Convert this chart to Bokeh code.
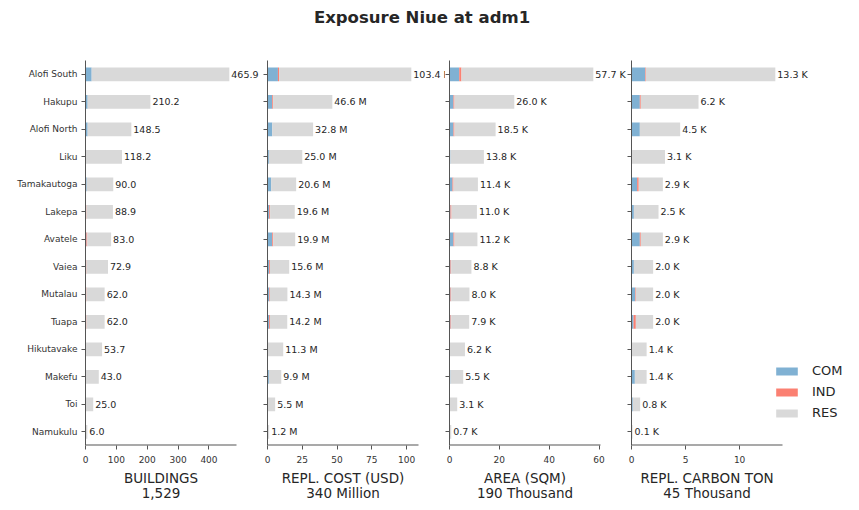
from bokeh.plotting import figure
from bokeh.models import (ColumnDataSource, Range1d, FixedTicker,
                          LabelSet, Legend, LegendItem)
from bokeh.core.properties import value
from bokeh.layouts import column, row
from bokeh.embed import file_html
from bokeh.resources import INLINE

# ---------------- data ----------------
regions = ["Alofi South", "Hakupu", "Alofi North", "Liku", "Tamakautoga", "Lakepa",
           "Avatele", "Vaiea", "Mutalau", "Tuapa", "Hikutavake", "Makefu", "Toi", "Namukulu"]

categories = ["COM", "IND", "RES"]

buildings_com = [20, 7, 7, 1, 4, 0, 3, 0, 0, 0, 0, 0, 0, 0]
buildings_ind = [0, 0, 0, 0, 0, 3, 3, 3, 3, 3, 0, 0, 0, 0]
buildings_res = [445.9, 203.2, 141.5, 117.2, 86.0, 85.9, 77.0, 69.9, 59.0, 59.0, 53.7, 43.0, 25.0, 6.0]

cost_com = [7.5, 3.4, 3.4, 1.0, 2.7, 1.2, 3.4, 1.2, 1.2, 1.2, 0.0, 1.0, 0.0, 0.0]
cost_ind = [0.8, 0.6, 0.0, 0.0, 0.0, 0.7, 0.7, 0.6, 0.5, 0.6, 0.0, 0.0, 0.0, 0.0]
cost_res = [95.1, 42.6, 29.4, 24.0, 17.9, 17.7, 15.8, 13.8, 12.6, 12.4, 11.3, 8.9, 5.5, 1.2]

area_com = [3.9, 1.6, 1.6, 0.4, 1.2, 0.4, 1.6, 0.4, 0.4, 0.4, 0.0, 0.4, 0.0, 0.0]
area_ind = [0.9, 0.4, 0.4, 0.0, 0.4, 0.4, 0.4, 0.3, 0.3, 0.3, 0.0, 0.0, 0.0, 0.0]
area_res = [52.9, 24.0, 16.5, 13.4, 9.8, 10.2, 9.2, 8.1, 7.3, 7.2, 6.2, 5.1, 3.1, 0.7]

carbon_com = [1.27, 0.77, 0.77, 0.02, 0.52, 0.22, 0.77, 0.22, 0.34, 0.19, 0.0, 0.31, 0.12, 0.0]
carbon_ind = [0.06, 0.09, 0.0, 0.0, 0.15, 0.0, 0.09, 0.0, 0.06, 0.21, 0.0, 0.0, 0.0, 0.0]
carbon_res = [11.97, 5.34, 3.73, 3.08, 2.23, 2.28, 2.04, 1.78, 1.6, 1.6, 1.4, 1.09, 0.68, 0.1]

axis_names = ["BUILDINGS", "REPL. COST (USD)", "AREA (SQM)", "REPL. CARBON TON"]
axis_totals = ["1,529", "340 Million", "190 Thousand", "45 Thousand"]
x_ticks = [[0, 100, 200, 300, 400], [0, 25, 50, 75, 100], [0, 20, 40, 60], [0, 5, 10]]
value_suffix = ["", " M", " K", " K"]
chart_title = "Exposure Niue at adm1"

# ---------------- style / layout ----------------
FONT = "DejaVu Sans"
COLORS = ["#80b1d3", "#fb8072", "#d9d9d9"]
AXIS_COLOR = "#555555"
TEXT_COLOR = "#262626"
AXIS_PX = 151                      # drawn length of each x axis
FRAME_W = [178, 178, 178, 220]     # frame widths (room for overflowing labels)
BORDER_L = [85, 4, 4, 4]
LABEL_ROW_H = 36                   # height of the axis-title strip (px)
LINE_Y = [0.72, 0.29]              # line centres inside the strip (fraction of height)

panels = [
    (buildings_com, buildings_ind, buildings_res),
    (cost_com, cost_ind, cost_res),
    (area_com, area_ind, area_res),
    (carbon_com, carbon_ind, carbon_res),
]

ypos = list(range(len(regions)))


def bare(fig):
    fig.axis.visible = False
    fig.grid.visible = False
    fig.outline_line_color = None
    fig.background_fill_color = None
    fig.border_fill_color = None


figs = []
label_figs = []
for i, (com, ind, res) in enumerate(panels):
    total = [c + d + r for c, d, r in zip(com, ind, res)]
    labels = [f"{t:.1f}{value_suffix[i]}" for t in total]
    src = ColumnDataSource(dict(y=ypos, COM=com, IND=ind, RES=res,
                                total=total, label=labels))
    xmax = max(total) * 1.05
    p = figure(frame_width=FRAME_W[i], frame_height=385,
               y_range=Range1d(len(regions) - 0.5, -0.5),
               x_range=Range1d(0, xmax * FRAME_W[i] / AXIS_PX),
               toolbar_location=None, output_backend="svg",
               min_border_left=BORDER_L[i], min_border_right=0,
               min_border_top=16, min_border_bottom=22)
    rs = p.hbar_stack(categories, y="y", height=0.5, fill_color=COLORS,
                      line_color=None, source=src)
    # bottom spine, only as long as the matplotlib-style axis
    p.segment(x0=[0], y0=[len(regions) - 0.5], x1=[xmax], y1=[len(regions) - 0.5],
              line_color=AXIS_COLOR, line_width=2)
    lab = LabelSet(x="total", y="y", text="label", x_offset=2, source=src,
                   text_baseline="middle", text_align="left",
                   text_font=value(FONT), text_font_size="9.5px", text_color=TEXT_COLOR)
    p.add_layout(lab)

    p.xgrid.visible = False
    p.ygrid.visible = False
    p.outline_line_color = None
    p.background_fill_color = None
    p.border_fill_color = None

    xa = p.xaxis[0]
    xa.ticker = FixedTicker(ticks=x_ticks[i])
    xa.major_label_text_font = FONT
    xa.major_label_text_font_size = "9px"
    xa.major_label_text_color = "#333333"
    xa.major_label_standoff = 6
    xa.major_tick_out = 4
    xa.major_tick_in = 0
    xa.minor_tick_line_color = None
    xa.axis_line_color = None
    xa.major_tick_line_color = AXIS_COLOR

    ya = p.yaxis[0]
    ya.ticker = FixedTicker(ticks=ypos)
    ya.major_tick_out = 4
    ya.major_tick_in = 0
    ya.minor_tick_line_color = None
    ya.axis_line_color = AXIS_COLOR
    ya.major_tick_line_color = AXIS_COLOR
    ya.major_label_text_font = FONT
    if i == 0:
        ya.major_label_overrides = {k: r for k, r in zip(ypos, regions)}
        ya.major_label_text_font_size = "9px"
        ya.major_label_text_color = "#333333"
        ya.major_label_standoff = 4
    else:
        ya.major_label_overrides = {k: "" for k in ypos}
        ya.major_label_text_color = None
        ya.major_label_standoff = 0

    if i == 3:
        legend = Legend(items=[LegendItem(label=c, renderers=[r]) for c, r in zip(categories, rs)],
                        location=(142, 24), orientation="vertical",
                        glyph_width=27, glyph_height=10, label_height=17, spacing=4,
                        label_standoff=12, padding=0, margin=0,
                        border_line_color=None, background_fill_alpha=0,
                        label_text_font=FONT, label_text_font_size="13px",
                        label_text_color=TEXT_COLOR)
        p.add_layout(legend)
    figs.append(p)

    # axis title (two centred lines), centred under the drawn axis
    lf = figure(frame_width=AXIS_PX, frame_height=LABEL_ROW_H,
                x_range=Range1d(0, 1), y_range=Range1d(0, 1),
                toolbar_location=None, output_backend="svg",
                min_border_left=BORDER_L[i], min_border_right=FRAME_W[i] - AXIS_PX,
                min_border_top=0, min_border_bottom=0)
    lsrc = ColumnDataSource(dict(x=[0.5, 0.5], y=LINE_Y,
                                 text=[axis_names[i], axis_totals[i]]))
    lf.text(x="x", y="y", text="text", source=lsrc, text_align="center",
            text_baseline="middle", text_font=value(FONT), text_font_size="13.5px",
            text_color=TEXT_COLOR)
    bare(lf)
    label_figs.append(lf)

tf = figure(width=843, height=44, toolbar_location=None, output_backend="svg",
            x_range=Range1d(0, 1), y_range=Range1d(0, 1), min_border=0)
tf.title.text = chart_title
tf.title.align = "center"
tf.title.text_font = FONT
tf.title.text_font_size = "16.5px"
tf.title.text_font_style = "bold"
tf.title.text_color = TEXT_COLOR
bare(tf)

layout = column(tf, row(*figs, spacing=0), row(*label_figs, spacing=0), spacing=0)

with open("out.html", "w") as f:
    f.write(file_html(layout, INLINE))
